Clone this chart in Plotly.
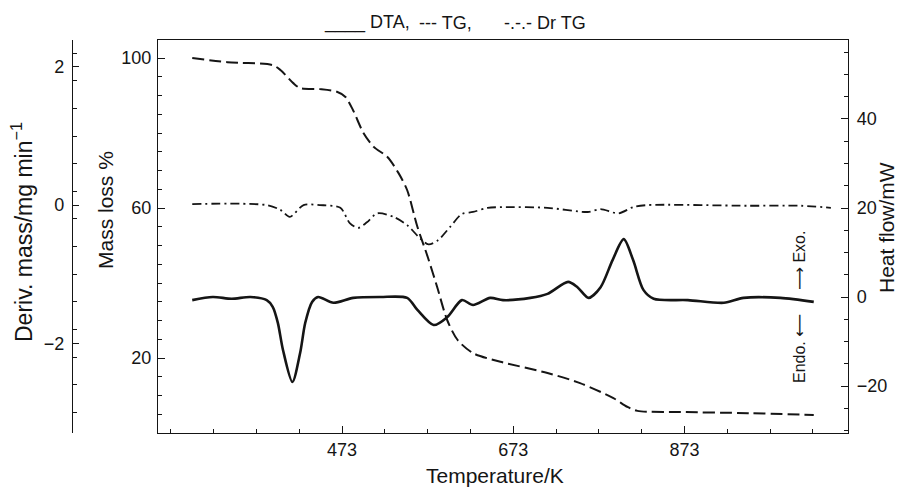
import plotly.graph_objects as go

# ---------------- data ----------------
T_tg = [298, 339, 392, 401, 416, 424, 447, 467, 477, 486, 498, 510, 526, 539, 549,
        561, 573, 584, 596, 608, 626, 658, 713, 751, 790, 806, 818, 868, 947, 1024]
mass_loss = [100, 98.9, 98.1, 96.8, 93.3, 92.0, 91.7, 91.0, 89.6, 86.0, 80.0, 76.3, 73.6, 69.3, 64.8,
             55.0, 47.0, 39.0, 30.0, 24.8, 21.3, 19.0, 16.0, 13.3, 9.3, 7.0, 5.9, 5.6, 5.3, 4.8]

T_dr = [298, 385, 401, 412, 428, 447, 471, 482, 492, 502, 514, 533, 549, 564, 574,
        585, 599, 613, 626, 643, 660, 713, 760, 775, 796, 813, 830, 947, 1009, 1044]
deriv_mass = [0.015, 0.0, -0.07, -0.17, 0.0, 0.0, -0.04, -0.26, -0.33, -0.25, -0.12, -0.17, -0.29, -0.48, -0.57,
              -0.51, -0.32, -0.13, -0.10, -0.04, -0.03, -0.04, -0.10, -0.06, -0.12, -0.03, 0.0, -0.01, -0.01, -0.04]

T_dta = [298, 322, 344, 366, 385, 392, 398, 404, 415, 424, 430, 438, 445, 463, 486, 518, 549, 561, 580, 596,
         613, 626, 646, 661, 693, 713, 737, 748, 761, 775, 789, 802, 813, 825, 837, 877, 919, 942, 985, 1024]
heat_flow = [-0.7, 0.0, -0.4, 0.0, -0.7, -2.2, -5.8, -11.9, -19.1, -12.6, -5.8, -1.1, 0.0, -1.3, -0.2, 0.0, -0.2, -2.9, -6.3, -4.5,
             -0.7, -1.8, -0.2, -0.7, -0.2, 0.7, 3.4, 2.2, -0.2, 2.2, 8.3, 13.0, 8.3, 1.6, -0.4, -0.7, -1.3, -0.2, -0.2, -1.1]

x_ticks = [473, 673, 873]
mass_ticks = [20, 60, 100]
deriv_ticks = [-2, 0, 2]
heat_ticks = [-20, 0, 20, 40]

# ---------------- layout helpers ----------------
W, H = 909, 488
OFF = 8                      # page body margin offsets the figure by 8px
PL, PR, PT, PB = 158, 848, 40, 433   # plot frame in screen pixels
ML = 0
MT = PT - OFF
MB = H - (PB - OFF)
PH = H - MT - MB


def px(x):
    return (x - OFF - ML) / W


def py(y):
    return (PB - y) / PH


FONT = "Liberation Sans, Arial, sans-serif"
INK = "#151515"

fig = go.Figure()

fig.add_trace(go.Scatter(x=T_dta, y=heat_flow, yaxis="y3", mode="lines",
                         line=dict(color=INK, width=2.6, shape="spline", smoothing=0.8),
                         name="DTA", showlegend=False))
fig.add_trace(go.Scatter(x=T_tg, y=mass_loss, yaxis="y", mode="lines",
                         line=dict(color=INK, width=2.0, dash="12px,5px", shape="spline", smoothing=0.8),
                         name="TG", showlegend=False))
fig.add_trace(go.Scatter(x=T_dr, y=deriv_mass, yaxis="y2", mode="lines",
                         line=dict(color=INK, width=1.8, dash="9px,4px,2px,4px", shape="spline", smoothing=0.8),
                         name="Dr TG", showlegend=False))

tickfont = dict(family=FONT, size=18, color=INK)

fig.update_layout(
    width=W, height=H,
    margin=dict(l=ML, r=0, t=MT, b=MB, autoexpand=False),
    paper_bgcolor="white", plot_bgcolor="white",
    font=dict(family=FONT, color=INK),
    xaxis=dict(domain=[px(PL), px(PR)], range=[258, 1064],
               tickvals=x_ticks, ticktext=[str(v) for v in x_ticks],
               ticks="inside", ticklen=7, tickwidth=1.2, tickcolor=INK,
               minor=dict(tickvals=[273, 323, 373, 423, 523, 573, 623, 723, 773, 823, 923, 973, 1023],
                          ticks="inside", ticklen=4, tickcolor=INK, tickwidth=1),
               showline=True, linecolor=INK, linewidth=1.3, mirror=True,
               showgrid=False, zeroline=False, tickfont=tickfont),
    yaxis=dict(range=[0, 104.8], tickvals=mass_ticks,
               ticks="inside", ticklen=7, tickwidth=1.2, tickcolor=INK,
               minor=dict(dtick=5, ticks="inside", ticklen=4, tickcolor=INK, tickwidth=1),
               showline=True, linecolor=INK, linewidth=1.3,
               showgrid=False, zeroline=False, tickfont=tickfont, ticklabelstandoff=2),
    yaxis2=dict(overlaying="y", anchor="free", position=px(72), side="left",
                range=[-3.30, 2.39], tickvals=deriv_ticks,
                ticks="inside", ticklen=6, tickwidth=1.2, tickcolor=INK,
                minor=dict(tickvals=[2.2, 1.8, 1.4, 1.0, 0.6, 0.2, -0.2, -0.6, -1.0, -1.4, -1.8, -2.2, -2.6, -3.0],
                           ticks="inside", ticklen=4, tickcolor=INK, tickwidth=1),
                showline=True, linecolor=INK, linewidth=1.2,
                showgrid=False, zeroline=False, tickfont=tickfont, ticklabelstandoff=4),
    yaxis3=dict(overlaying="y", anchor="x", side="right",
                range=[-30.56, 57.75], tickvals=heat_ticks,
                ticks="inside", ticklen=7, tickwidth=1.2, tickcolor=INK,
                minor=dict(dtick=5, ticks="inside", ticklen=4, tickcolor=INK, tickwidth=1),
                showline=True, linecolor=INK, linewidth=1.3,
                showgrid=False, zeroline=False, tickfont=tickfont, ticklabelstandoff=4),
)

title_font = dict(family=FONT, size=21, color=INK)
small = dict(family=FONT, size=18, color=INK)
ann = [
    dict(text="Temperature/K", x=px(495), y=py(475), font=title_font),
    dict(text="Mass loss %", x=px(105), y=py(210), textangle=-90, font=title_font),
    dict(text="Deriv. mass/mg min<sup>\u22121</sup>", x=px(22), y=py(232), textangle=-90,
         font=dict(family=FONT, size=23, color=INK)),
    dict(text="Heat flow/mW", x=px(887), y=py(228), textangle=-90, font=title_font),
    dict(text="____ DTA,", x=px(322), y=py(23), xanchor="left", font=small),
    dict(text="--- TG,", x=px(417), y=py(23), xanchor="left", font=small),
    dict(text="-.-.- Dr TG", x=px(502), y=py(23), xanchor="left", font=small),
    dict(text="Endo. \u27f5", x=px(799), y=py(349), textangle=-90,
         font=dict(family="Liberation Sans, DejaVu Sans, sans-serif", size=16, color=INK)),
    dict(text="\u27f6 Exo.", x=px(799), y=py(261), textangle=-90,
         font=dict(family="Liberation Sans, DejaVu Sans, sans-serif", size=16, color=INK)),
]
for a in ann:
    a.setdefault("xanchor", "center")
    fig.add_annotation(xref="paper", yref="paper", showarrow=False, yanchor="middle", **a)

fig.write_html("out.html")
